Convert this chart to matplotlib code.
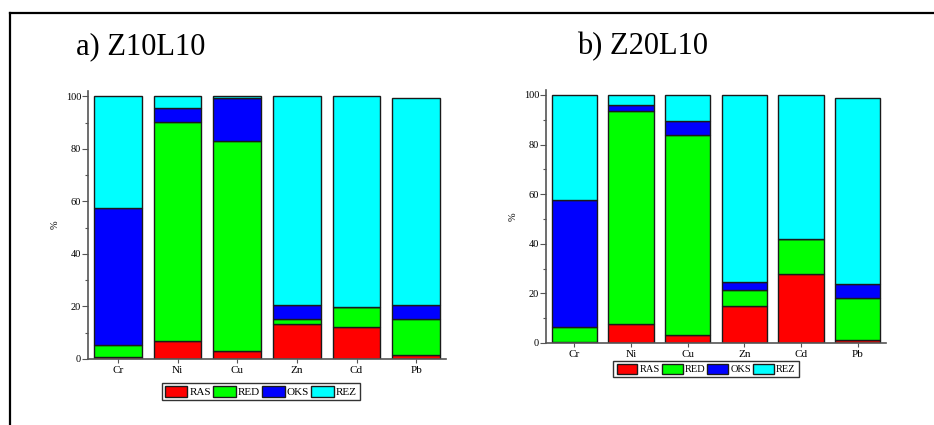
import matplotlib.pyplot as plt
import numpy as np
from matplotlib.lines import Line2D

plt.rcParams['font.family'] = ['Liberation Serif', 'DejaVu Serif']

elements = ['Cr', 'Ni', 'Cu', 'Zn', 'Cd', 'Pb']
fractions = ['RAS', 'RED', 'OKS', 'REZ']
colors = ['#ff0000', '#00ff00', '#0000ff', '#00ffff']

# a) Z10L10
ras_a = [0.6, 7.0, 3.0, 13.2, 12.2, 1.4]
red_a = [4.7, 83.1, 79.8, 2.2, 7.5, 13.8]
oks_a = [52.0, 5.5, 16.4, 5.3, 0.0, 5.3]
rez_a = [42.7, 4.4, 0.8, 79.3, 80.3, 78.7]

# b) Z20L10
ras_b = [0.6, 7.8, 3.2, 14.9, 28.0, 1.3]
red_b = [6.0, 85.7, 80.5, 6.5, 14.1, 17.0]
oks_b = [51.0, 2.6, 5.9, 3.0, 0.0, 5.4]
rez_b = [42.4, 3.9, 10.4, 75.6, 57.9, 75.1]

W, H = 934, 425


def stacked(ax, series, legend_center, legend_size):
    x = np.arange(len(elements))
    bottom = np.zeros(len(elements))
    for vals, c, name in zip(series, colors, fractions):
        ax.bar(x, vals, 0.8, bottom=bottom, color=c, edgecolor='#1a1a1a',
               linewidth=1.0, label=name)
        bottom += np.array(vals)
    ax.set_xlim(-0.5, len(elements) - 0.5)
    ax.set_ylim(0, 102)
    ax.set_xticks(x)
    ax.set_xticklabels(elements, fontsize=8)
    ax.set_yticks(range(0, 101, 20))
    ax.set_yticks(range(10, 100, 20), minor=True)
    ax.tick_params(axis='y', labelsize=7.5, length=4, width=0.8, color='#555555', pad=1)
    ax.tick_params(axis='y', which='minor', length=2.5, width=0.8, color='#555555')
    ax.tick_params(axis='x', length=3, width=0.8, color='#555555', pad=2)
    for s in ['top', 'right']:
        ax.spines[s].set_visible(False)
    for s in ['left', 'bottom']:
        ax.spines[s].set_color('#555555')
        ax.spines[s].set_linewidth(1.2)
    ax.set_ylabel('%', fontsize=7.5, labelpad=4)
    leg = ax.legend(loc='center', bbox_to_anchor=legend_center,
                    bbox_transform=ax.figure.transFigure, ncol=4, fontsize=legend_size,
                    handlelength=2.0, handleheight=1.1, handletextpad=0.2,
                    columnspacing=0.2, borderpad=0.3, fancybox=False,
                    frameon=True, edgecolor='black', borderaxespad=0)
    leg.get_frame().set_linewidth(1.0)
    for p in leg.get_patches():
        p.set_edgecolor('#1a1a1a')


fig = plt.figure(figsize=(W / 100, H / 100), dpi=100)

ax1 = fig.add_axes([88 / W, (H - 359) / H, 358 / W, 268 / H])
stacked(ax1, [ras_a, red_a, oks_a, rez_a], (261 / W, (H - 391.5) / H), 8)

ax2 = fig.add_axes([546 / W, (H - 343) / H, 340 / W, 253 / H])
stacked(ax2, [ras_b, red_b, oks_b, rez_b], (706 / W, (H - 369) / H), 7.5)

fig.text(76 / W, (H - 47) / H, 'a) Z10L10', fontsize=22, va='center', ha='left')
fig.text(577 / W, (H - 47) / H, 'b) Z20L10', fontsize=22, va='center', ha='left')

# frame lines
fig.add_artist(Line2D([10 / W, 1], [(H - 13) / H, (H - 13) / H], color='black',
                      linewidth=1.6, transform=fig.transFigure))
fig.add_artist(Line2D([10 / W, 10 / W], [(H - 13) / H, 0], color='black',
                      linewidth=1.6, transform=fig.transFigure))

fig.savefig('out.png', dpi=100)
